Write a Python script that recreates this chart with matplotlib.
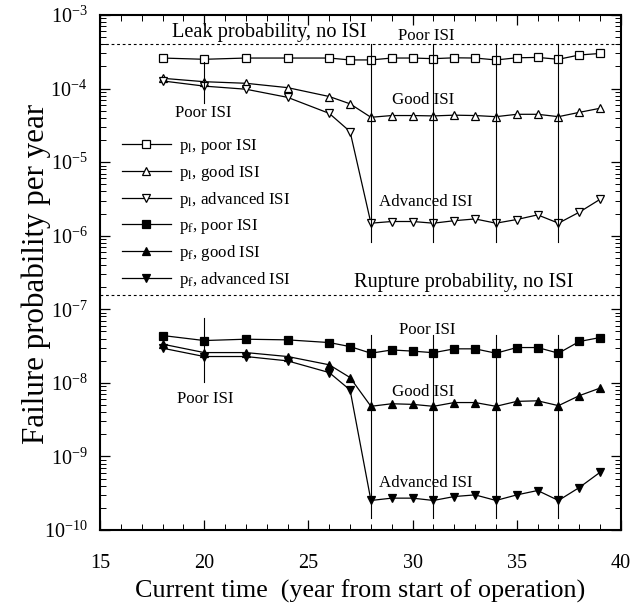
import matplotlib
matplotlib.use("Agg")
import matplotlib.pyplot as plt
from matplotlib.ticker import LogLocator, MultipleLocator, NullFormatter

plt.rcParams['font.family'] = ['Liberation Serif', 'DejaVu Serif']
plt.rcParams['mathtext.fontset'] = 'stix'

years = [18, 20, 22, 24, 26, 27, 28, 29, 30, 31, 32, 33, 34, 35, 36, 37, 38, 39]

pl_poor = [2.6e-4, 2.5e-4, 2.6e-4, 2.6e-4, 2.6e-4, 2.45e-4, 2.45e-4, 2.6e-4, 2.6e-4,
           2.55e-4, 2.62e-4, 2.6e-4, 2.45e-4, 2.62e-4, 2.65e-4, 2.5e-4, 2.86e-4, 3.0e-4]
pl_good = [1.38e-4, 1.24e-4, 1.18e-4, 1.03e-4, 7.8e-5, 6.2e-5, 4.07e-5, 4.3e-5, 4.3e-5,
           4.25e-5, 4.35e-5, 4.3e-5, 4.15e-5, 4.47e-5, 4.47e-5, 4.15e-5, 4.75e-5, 5.4e-5]
pl_adv = [1.27e-4, 1.08e-4, 9.8e-5, 7.6e-5, 4.6e-5, 2.6e-5, 1.48e-6, 1.56e-6, 1.56e-6,
          1.48e-6, 1.6e-6, 1.69e-6, 1.48e-6, 1.66e-6, 1.92e-6, 1.48e-6, 2.09e-6, 3.13e-6]
pf_poor = [4.4e-8, 3.76e-8, 3.92e-8, 3.84e-8, 3.53e-8, 3.11e-8, 2.53e-8, 2.8e-8, 2.7e-8,
           2.57e-8, 2.9e-8, 2.9e-8, 2.53e-8, 3.02e-8, 3.02e-8, 2.53e-8, 3.65e-8, 4.13e-8]
pf_good = [3.36e-8, 2.58e-8, 2.58e-8, 2.28e-8, 1.76e-8, 1.18e-8, 4.8e-9, 5.2e-9, 5.1e-9,
           4.8e-9, 5.4e-9, 5.4e-9, 4.8e-9, 5.6e-9, 5.7e-9, 4.9e-9, 6.7e-9, 8.5e-9]
pf_adv = [2.96e-8, 2.28e-8, 2.28e-8, 1.99e-8, 1.38e-8, 8.0e-9, 2.52e-10, 2.71e-10, 2.71e-10,
          2.52e-10, 2.85e-10, 3.0e-10, 2.52e-10, 3.0e-10, 3.44e-10, 2.52e-10, 3.78e-10, 6.1e-10]

leak_no_isi = 4.0e-4
rupture_no_isi = 1.55e-7

inspect_years = [28, 31, 34, 37]
upper_span = (4.0e-4, 8.2e-7)
lower_span = (4.5e-8, 1.47e-10)
first_year = 20
first_upper_span = (2.3e-4, 6.4e-5)
first_lower_span = (7.6e-8, 1.03e-8)

fig = plt.figure(figsize=(6.31, 6.12), dpi=100)
ax = fig.add_axes([100/631, 82/612, 521/631, 515/612])

kw = dict(color='black', lw=0.9, markeredgecolor='black', markeredgewidth=0.9)
ax.plot(years, pl_poor, marker='s', ms=5.8, markerfacecolor='white', label=r'p$_\mathrm{l}$, poor ISI', **kw)
ax.plot(years, pl_good, marker='^', ms=6.2, markerfacecolor='white', label=r'p$_\mathrm{l}$, good ISI', **kw)
ax.plot(years, pl_adv, marker='v', ms=6.2, markerfacecolor='white', label=r'p$_\mathrm{l}$, advanced ISI', **kw)
ax.plot(years, pf_poor, marker='s', ms=5.8, markerfacecolor='black', label=r'p$_\mathrm{f}$, poor ISI', **kw)
ax.plot(years, pf_good, marker='^', ms=5.8, markerfacecolor='black', label=r'p$_\mathrm{f}$, good ISI', **kw)
ax.plot(years, pf_adv, marker='v', ms=5.8, markerfacecolor='black', label=r'p$_\mathrm{f}$, advanced ISI', **kw)

ax.axhline(leak_no_isi, color='black', lw=0.8, ls=(0, (2.5, 2.5)))
ax.axhline(rupture_no_isi, color='black', lw=0.8, ls=(0, (2.5, 2.5)))

for yr in inspect_years:
    ax.plot([yr, yr], upper_span, color='black', lw=0.8)
    ax.plot([yr, yr], lower_span, color='black', lw=0.8)
ax.plot([first_year, first_year], first_upper_span, color='black', lw=0.8)
ax.plot([first_year, first_year], first_lower_span, color='black', lw=0.8)

ax.set_yscale('log')
ax.set_xlim(15, 40)
ax.set_ylim(1e-10, 1e-3)

ax.xaxis.set_major_locator(MultipleLocator(5))
ax.xaxis.set_minor_locator(MultipleLocator(1))
ax.yaxis.set_major_locator(LogLocator(base=10, numticks=20))
ax.yaxis.set_minor_locator(LogLocator(base=10, subs=range(2, 10), numticks=100))
ax.yaxis.set_minor_formatter(NullFormatter())
ax.tick_params(which='both', direction='in', top=True, right=True)
ax.tick_params(which='major', length=7, width=0.9, labelsize=14.5)
ax.tick_params(which='minor', length=4, width=0.7)
ax.tick_params(axis='x', which='major', pad=17)
ax.tick_params(axis='y', which='major', pad=9)
for sp in ax.spines.values():
    sp.set_linewidth(1.5)

tfs = 12.2
bfs = 14.7
ax.text(18.45, 5.8e-4, 'Leak probability, no ISI', fontsize=bfs, va='center', ha='left')
ax.text(30.67, 5.26e-4, 'Poor ISI', fontsize=tfs, va='center', ha='center')
ax.text(30.52, 6.9e-5, 'Good ISI', fontsize=tfs, va='center', ha='center')
ax.text(30.62, 2.83e-6, 'Advanced ISI', fontsize=tfs, va='center', ha='center')
ax.text(32.44, 2.3e-7, 'Rupture probability, no ISI', fontsize=bfs, va='center', ha='center')
ax.text(30.69, 5.25e-8, 'Poor ISI', fontsize=tfs, va='center', ha='center')
ax.text(30.52, 7.6e-9, 'Good ISI', fontsize=tfs, va='center', ha='center')
ax.text(30.62, 4.33e-10, 'Advanced ISI', fontsize=tfs, va='center', ha='center')
ax.text(19.97, 4.6e-5, 'Poor ISI', fontsize=tfs, va='center', ha='center')
ax.text(20.06, 6.0e-9, 'Poor ISI', fontsize=tfs, va='center', ha='center')

leg = ax.legend(loc='upper left', bbox_to_anchor=(0.042, 0.764), frameon=False,
                fontsize=12.2, handlelength=2.9, handletextpad=0.5,
                labelspacing=0.42, borderaxespad=0, borderpad=0)

ax.set_xlabel('Current time  (year from start of operation)', fontsize=18.8, labelpad=5)
ax.set_ylabel('Failure probability per year', fontsize=22.3)
ax.yaxis.set_label_coords(-0.094, 0.498)

fig.savefig('out.png', dpi=100)
